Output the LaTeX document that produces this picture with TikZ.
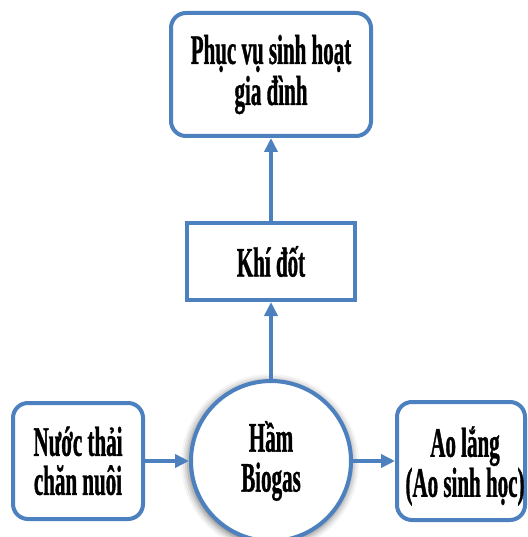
\documentclass[tikz,border=0pt]{standalone}
\usepackage{fontspec}
\newfontface\cf[FakeStretch=0.5,FakeBold=0.8]{Liberation Serif Bold}
\usetikzlibrary{arrows.meta}
\definecolor{bl}{RGB}{76,128,190}
\tikzset{
  box/.style={draw=bl, line width=4pt, fill=white, inner sep=0pt, align=center,
    font=\cf\fontsize{42}{40}\selectfont},
  rbox/.style={box, rounded corners=15pt},
  arr/.style={draw=bl, line width=3.5pt, -{Triangle[length=14pt,width=13pt]}}
}
\begin{document}
\begin{tikzpicture}[x=1pt,y=-1pt]
\useasboundingbox (0,0) rectangle (527,537);
\fill[white] (0,0) rectangle (527,537);
% shadow glow of circle
\foreach \r/\o in {89/0.04,87/0.06,85/0.08,83/0.11,81/0.14}
  \fill[black,opacity=\o] (270,463) circle (\r);
\node[rbox, minimum width=200pt, minimum height=123pt,
  font=\cf\fontsize{42}{41}\selectfont] (top) at (271,74.5) {Phục vụ sinh hoạt\\gia đình};
\node[box, minimum width=168pt, minimum height=77pt] (khi) at (271,261.5) {Khí đốt};
\node[draw=bl, line width=4pt, fill=white, circle, minimum size=160pt, inner sep=0pt,
  align=center, font=\cf\fontsize{42}{40}\selectfont] (ham) at (271,461) {Hầm\\Biogas};
\node[rbox, minimum width=130pt, minimum height=116pt,
  font=\cf\fontsize{42}{39}\selectfont] (nuoc) at (78,461) {Nước thải\\chăn nuôi};
\node[rbox, minimum width=128pt, minimum height=118pt] (ao) at (461,461) {};
\node[font=\cf\fontsize{42}{40}\selectfont, align=center, inner sep=0pt] (aotext) at (ao.center) [xshift=4pt, yshift=-5pt] {Ao lắng\\(Ao sinh học)};
\draw[arr] (nuoc.east) -- (ham.west);
\draw[arr] (ham.east) -- (ao.west);
\draw[arr] (ham.north) -- (khi.south);
\draw[arr] (khi.north) -- (top.south);
\end{tikzpicture}
\end{document}
